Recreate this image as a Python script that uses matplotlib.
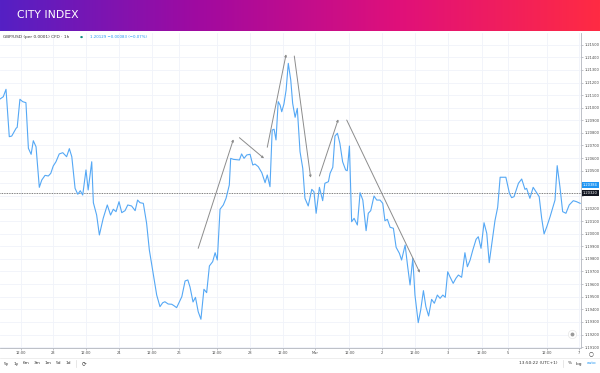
import numpy as np
import matplotlib
matplotlib.use("Agg")
import matplotlib.pyplot as plt
from matplotlib.colors import LinearSegmentedColormap

# GBP/USD 1h の終値（時間軸は取引時間ベースのバー位置）
hours = [0, 1.2, 2.2, 3.4, 4.3, 5.9, 6.3, 7.3, 8.3, 9.5, 10.4, 11.4, 12.2, 13.2, 14.4, 15.3,
         16.5, 17.7, 18.6, 19.5, 20.5, 21.7, 23.0, 24.4, 25.4, 26.3, 27.5, 28.5, 29.4, 30.3,
         31.5, 32.3, 33.6, 34.2, 35.4, 36.4, 37.8, 39.3, 40.5, 41.5, 42.5, 43.6, 44.6, 45.8,
         46.8, 48.2, 49.5, 50.4, 51.3, 52.5, 53.7, 54.7, 56.2, 57.4, 58.6, 59.6, 60.4, 61.6,
         62.9, 63.7, 64.7, 66.6, 67.8, 68.8, 69.6, 70.7, 71.6, 72.6, 73.6, 74.7, 75.7, 76.7,
         77.9, 78.8, 79.6, 80.6, 81.8, 82.8, 84.0, 84.5, 85.5, 87.7, 88.5, 89.4, 90.4, 91.6,
         92.6, 93.4, 94.6, 95.9, 97.1, 97.9, 98.9, 99.7, 100.4, 101.1, 101.9, 102.6, 103.2,
         104.0, 104.8, 105.6, 106.5, 107.2, 108.1, 108.9, 109.9, 110.9, 111.7, 112.9, 114.2,
         115.0, 115.8, 117.0, 118.2, 119.0, 120.3, 120.9, 121.9, 122.7, 123.6, 124.5, 125.5,
         126.6, 127.2, 128.0, 128.8, 129.7, 130.9, 131.9, 132.9, 134.1, 134.9, 135.8, 137.0,
         138.0, 139.2, 140.2, 141.0, 141.9, 142.9, 144.1, 145.1, 146.3, 147.1, 148.4, 149.3,
         150.2, 151.2, 152.0, 153.2, 154.1, 155.1, 156.0, 157.0, 158.1, 159.1, 160.2, 161.2,
         162.2, 163.1, 164.0, 164.8, 166.0, 167.0, 167.9, 169.1, 170.3, 171.2, 172.2, 173.2,
         174.4, 175.2, 176.2, 177.3, 178.3, 179.2, 180.5, 181.3, 182.3, 183.2, 185.3, 186.6,
         187.4, 188.3, 189.9, 191.1, 192.3, 192.9, 194.1, 195.3, 196.6, 197.5, 198.4, 199.3,
         200.3, 201.5, 203.3, 204.1, 205.1, 206.1, 207.3, 208.5, 210.0, 211.2, 212.5]
close = [1.21069, 1.21087, 1.21146, 1.20770, 1.20775, 1.20837, 1.20844, 1.21067, 1.21048,
         1.21040, 1.20678, 1.20630, 1.20738, 1.20690, 1.20368, 1.20426, 1.20463, 1.20458,
         1.20479, 1.20537, 1.20571, 1.20633, 1.20643, 1.20611, 1.20675, 1.20611, 1.20360,
         1.20313, 1.20341, 1.20307, 1.20506, 1.20347, 1.20571, 1.20246, 1.20148, 1.19990,
         1.20122, 1.20228, 1.20148, 1.20194, 1.20175, 1.20254, 1.20167, 1.20183, 1.20228,
         1.20220, 1.20183, 1.20267, 1.20246, 1.20241, 1.20083, 1.19871, 1.19672, 1.19513,
         1.19421, 1.19452, 1.19460, 1.19442, 1.19440, 1.19429, 1.19413, 1.19500, 1.19625,
         1.19633, 1.19577, 1.19458, 1.19495, 1.19381, 1.19321, 1.19559, 1.19532, 1.19744,
         1.19778, 1.19849, 1.19791, 1.20194, 1.20228, 1.20281, 1.20387, 1.20598, 1.20590,
         1.20585, 1.20633, 1.20598, 1.20625, 1.20630, 1.20545, 1.20553, 1.20532, 1.20484,
         1.20405, 1.20466, 1.20373, 1.20823, 1.20829, 1.20744, 1.21048, 1.21021, 1.20968,
         1.21029, 1.21140, 1.21352, 1.21220, 1.21035, 1.20924, 1.20995, 1.20651, 1.20519,
         1.20281, 1.20220, 1.20352, 1.20333, 1.20162, 1.20368, 1.20262, 1.20400, 1.20413,
         1.20479, 1.20527, 1.20775, 1.20797, 1.20717, 1.20571, 1.20506, 1.20500, 1.20696,
         1.20095, 1.20122, 1.20069, 1.20325, 1.20267, 1.20024, 1.20162, 1.20183, 1.20299,
         1.20267, 1.20267, 1.20241, 1.20103, 1.20114, 1.20051, 1.20043, 1.19892, 1.19844,
         1.19791, 1.19910, 1.19744, 1.19593, 1.19805, 1.19513, 1.19294, 1.19394, 1.19548,
         1.19421, 1.19347, 1.19479, 1.19448, 1.19513, 1.19487, 1.19513, 1.19495, 1.19698,
         1.19659, 1.19606, 1.19646, 1.19672, 1.19654, 1.19849, 1.19738, 1.19791, 1.19871,
         1.19956, 1.19976, 1.19884, 1.20087, 1.20003, 1.19770, 1.19976, 1.20103, 1.20210,
         1.20448, 1.20448, 1.20321, 1.20286, 1.20294, 1.20400, 1.20434, 1.20352, 1.20360,
         1.20281, 1.20368, 1.20325, 1.20294, 1.20125, 1.19998, 1.20056, 1.20135, 1.20267,
         1.20540, 1.20373, 1.20175, 1.20162, 1.20228, 1.20262, 1.20254, 1.20241]

# 手描きのトレンドライン（始点, 終点）
trend_start = [(72.6, 1.19884), (87.7, 1.20762), (97.9, 1.20686), (107.8, 1.21410),
               (117.0, 1.20458), (127.0, 1.20902)]
trend_end = [(85.5, 1.20749), (96.7, 1.20598), (104.8, 1.21424), (113.8, 1.20444),
             (123.9, 1.20908), (153.8, 1.19690)]

# 時間軸ラベル
xtick_pos = [7.6, 19.3, 31.5, 43.5, 55.6, 65.6, 79.6, 91.6, 103.8, 115.4, 128.0, 139.8,
             152.0, 164.0, 176.4, 186.2, 200.3, 212.2]
xtick_labels = ["12:00", "23", "12:00", "24", "12:00", "26", "12:00", "28", "12:00", "Mar",
                "12:00", "2", "12:00", "3", "12:00", "5", "12:00", "7"]
ytick_vals = [1.191 + 0.001 * i for i in range(25)]

last_price = 1.20384
prev_close = 1.20320

W, H = 600, 373


def fx(x):
    return x / W


def fy(y):
    return 1 - y / H


fig = plt.figure(figsize=(6, 3.73), dpi=100)
fig.patch.set_facecolor("white")

# ヘッダー（グラデーション）
hax = fig.add_axes([0, fy(31), 1, 31 / H])
cmap = LinearSegmentedColormap.from_list("ci", ["#5520c4", "#a10aa0", "#e0107a", "#ff2b43"])
hax.imshow(np.linspace(0, 1, 256)[None, :], aspect="auto", cmap=cmap, extent=[0, 1, 0, 1])
hax.axis("off")
hax.text(0.028, 0.5, "CITY INDEX", color="white", fontsize=7.8, va="center", ha="left",
         transform=hax.transAxes)

# メインチャート
ax = fig.add_axes([0, fy(347.5), 581 / W, (347.5 - 33) / H])
ylo = 1.205 - (347.5 - 170.7) / 12600
yhi = 1.205 + (170.7 - 33) / 12600
ax.set_xlim(0, 581 / 2.73)
ax.set_ylim(ylo, yhi)

for xv in xtick_pos:
    ax.axvline(xv, color="#f0f3fa", lw=0.6, zorder=0)
for yv in ytick_vals:
    ax.axhline(yv, color="#f0f3fa", lw=0.6, zorder=0)

ax.plot(hours, close, color="#55a8f5", lw=0.8, zorder=3)
ax.axhline(prev_close, color="#555555", lw=0.6, ls=(0, (1, 1)), zorder=2)

for s, e in zip(trend_start, trend_end):
    ax.annotate("", xy=e, xytext=s,
                arrowprops=dict(arrowstyle="-|>", color="#8c8c8c", lw=0.7,
                                mutation_scale=3, shrinkA=0, shrinkB=0), zorder=4)

ax.set_xticks(xtick_pos)
ax.set_xticklabels(xtick_labels)
ax.set_yticks(ytick_vals)
# 価格ラベルに隠れる目盛りは表示しない
ax.set_yticklabels(["" if abs(v - last_price) < 0.0007 or abs(v - prev_close) < 0.0007
                    else f"{v:.5f}" for v in ytick_vals])
ax.yaxis.tick_right()
ax.tick_params(axis="both", labelsize=2.6, colors="#9598a1", labelcolor="#4a4a4a",
               length=1.5, width=0.4, pad=1)
for side in ["top", "left"]:
    ax.spines[side].set_visible(False)
for side in ["right", "bottom"]:
    ax.spines[side].set_color("#b2b5be")
    ax.spines[side].set_linewidth(0.6)

# 価格ラベル
for price, bg in [(last_price, "#2196f3"), (prev_close, "#131722")]:
    ax.text(1.003, (price - ylo) / (yhi - ylo), f"{price:.5f}", transform=ax.transAxes,
            fontsize=2.6, color="white", va="center", ha="left",
            bbox=dict(boxstyle="square,pad=0.3", fc=bg, ec="none"))

# 凡例
fig.text(fx(3), fy(37.3), "GBP/USD (per 0.0001) CFD · 1h", fontsize=3.1, color="#333333",
         va="center", ha="left")
fig.text(fx(81.7), fy(37.3), "●", fontsize=2.5, color="#0d8f7f", va="center", ha="center")
fig.text(fx(90), fy(37.3), "1.20129 −0.00083 (−0.07%)", fontsize=2.8, color="#2196f3",
         va="center", ha="left")

# 右下のボタン
ax.plot([571.7 / 2.73], [1.205 - (334 - 170.7) / 12600], "o", ms=6, mfc="white",
        mec="#e6e6e6", mew=0.5, clip_on=False, zorder=5)
ax.plot([571.7 / 2.73], [1.205 - (334 - 170.7) / 12600], "o", ms=1.8, color="#9a9a9a",
        clip_on=False, zorder=6)

# 下部ツールバー
fig.add_artist(plt.Line2D([0, 1], [fy(358), fy(358)], color="#e8e8e8", lw=0.5))
for x, t in zip([6.7, 16, 26, 36.7, 48.3, 58.3, 68.3],
                ["5y", "1y", "6m", "3m", "1m", "5d", "1d"]):
    fig.text(fx(x), fy(363.5), t, fontsize=3.1, color="#333333", va="center", ha="center")
fig.add_artist(plt.Line2D([fx(76), fx(76)], [fy(360), fy(367)], color="#dddddd", lw=0.5))
fig.text(fx(84), fy(363.5), "⟳", fontsize=4, color="#333333", va="center", ha="center")
fig.text(fx(538.5), fy(363.5), "13:50:22 (UTC+1)", fontsize=3.1, color="#333333",
         va="center", ha="center")
fig.add_artist(plt.Line2D([fx(563), fx(563)], [fy(360), fy(367)], color="#dddddd", lw=0.5))
fig.text(fx(570), fy(363.5), "%", fontsize=3.1, color="#333333", va="center", ha="center")
fig.text(fx(579), fy(363.5), "log", fontsize=3.1, color="#333333", va="center", ha="center")
fig.text(fx(591.5), fy(363.5), "auto", fontsize=3.1, color="#2196f3", va="center",
         ha="center")
fig.text(fx(590.7), fy(353.3), "○", fontsize=4, color="#333333", va="center", ha="center")

fig.savefig("out.png", dpi=100)
